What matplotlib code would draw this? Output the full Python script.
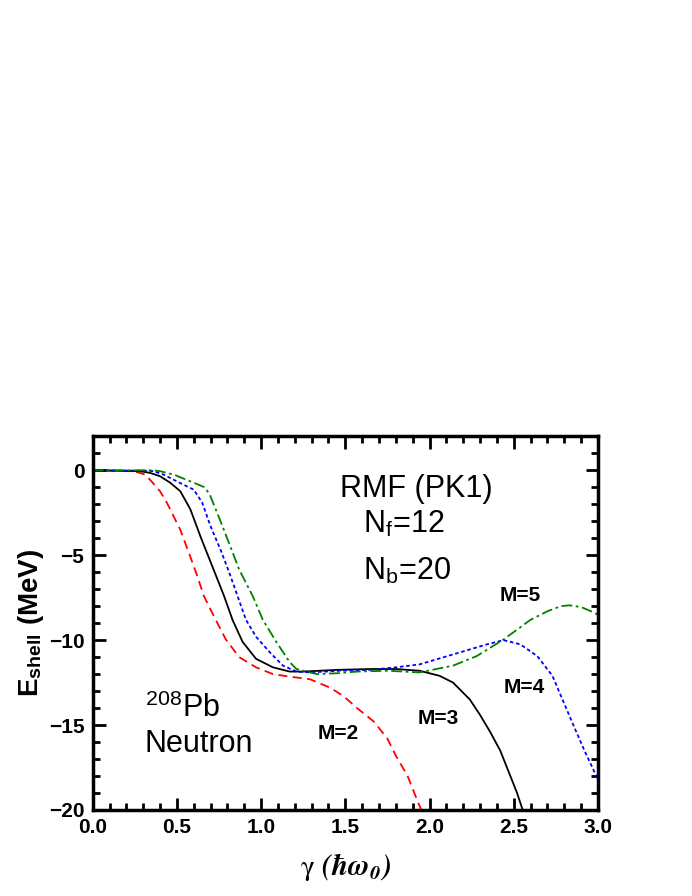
import matplotlib
matplotlib.use('Agg')
import matplotlib.pyplot as plt
from matplotlib.ticker import MultipleLocator

plt.rcParams['font.family'] = ['Liberation Sans', 'DejaVu Sans']
plt.rcParams['mathtext.fontset'] = 'stix'

# M=2 (red dashed)
g_m2 = [0, 0.20, 0.27, 0.31, 0.34, 0.40, 0.44, 0.48, 0.52, 0.58, 0.62, 0.66,
        0.72, 0.79, 0.87, 0.97, 1.07, 1.17, 1.29, 1.41, 1.49, 1.57, 1.67,
        1.75, 1.80, 1.87, 1.93, 1.96]
e_m2 = [0, -0.03, -0.12, -0.25, -0.55, -1.24, -1.9, -2.7, -3.5, -5.1, -6.2,
        -7.4, -8.6, -9.95, -11.0, -11.6, -12.0, -12.15, -12.3, -12.8, -13.3,
        -14.0, -14.8, -15.8, -16.8, -18.0, -19.5, -20.2]

# M=3 (black solid)
g_m3 = [0, 0.28, 0.34, 0.40, 0.46, 0.52, 0.58, 0.64, 0.70, 0.74, 0.78, 0.83,
        0.89, 0.97, 1.07, 1.17, 1.25, 1.45, 1.65, 1.80, 1.94, 2.06, 2.14,
        2.24, 2.30, 2.36, 2.42, 2.48, 2.52, 2.56]
e_m3 = [0, -0.05, -0.15, -0.35, -0.73, -1.23, -2.3, -3.9, -5.4, -6.4, -7.4,
        -8.8, -10.1, -11.1, -11.6, -11.85, -11.85, -11.75, -11.7, -11.7,
        -11.8, -12.1, -12.5, -13.5, -14.4, -15.4, -16.5, -18.0, -19.0, -20.2]

# M=4 (blue dotted)
g_m4 = [0, 0.30, 0.36, 0.42, 0.48, 0.54, 0.60, 0.65, 0.70, 0.76, 0.81, 0.86,
        0.91, 0.97, 1.05, 1.13, 1.21, 1.29, 1.47, 1.65, 1.80, 1.94, 2.14,
        2.34, 2.44, 2.54, 2.64, 2.73, 2.79, 2.85, 2.92, 3.0]
e_m4 = [0, -0.02, -0.05, -0.25, -0.55, -0.85, -1.14, -1.9, -3.3, -4.7, -6.0,
        -7.4, -8.8, -9.8, -10.7, -11.5, -11.85, -11.9, -11.8, -11.75, -11.6,
        -11.43, -10.84, -10.25, -10.0, -10.25, -10.94, -12.1, -13.5, -14.9,
        -16.5, -18.2]

# M=5 (green dash-dot)
g_m5 = [0, 0.36, 0.40, 0.48, 0.60, 0.665, 0.695, 0.755, 0.81, 0.87, 0.95,
        1.01, 1.09, 1.17, 1.21, 1.33, 1.45, 1.57, 1.75, 1.94, 2.14, 2.28,
        2.44, 2.60, 2.70, 2.78, 2.83, 2.90, 2.96, 3.0]
e_m5 = [0, 0.0, -0.05, -0.25, -0.73, -1.0, -1.43, -2.9, -4.3, -5.85, -7.4,
        -8.8, -10.1, -11.3, -11.7, -12.0, -11.95, -11.85, -11.8, -11.9,
        -11.5, -10.94, -9.96, -8.8, -8.3, -8.0, -7.95, -8.05, -8.3, -8.5]

fig = plt.figure(figsize=(6.92, 8.96), dpi=100)
ax = fig.add_axes([0.134, 0.096, 0.730, 0.417])

lw = 1.3
ax.plot(g_m2, e_m2, color='#ff0000', lw=lw, dashes=(5, 3))
ax.plot(g_m3, e_m3, color='black', lw=lw)
ax.plot(g_m4, e_m4, color='#0000ff', lw=lw, dashes=(2, 1.5))
ax.plot(g_m5, e_m5, color='#008000', lw=lw, dashes=(6, 2, 1.5, 2))

ax.set_xlim(0, 3.0)
ax.set_ylim(-20, 2)
ax.xaxis.set_major_locator(MultipleLocator(0.5))
ax.xaxis.set_minor_locator(MultipleLocator(0.1))
ax.yaxis.set_major_locator(MultipleLocator(5))
ax.yaxis.set_minor_locator(MultipleLocator(1))
ax.tick_params(which='both', direction='in', top=True, right=True,
               width=2)
ax.tick_params(which='major', length=9, labelsize=15, pad=6)
ax.tick_params(which='minor', length=5)
for lab in ax.get_xticklabels() + ax.get_yticklabels():
    lab.set_fontweight('bold')
for sp in ax.spines.values():
    sp.set_linewidth(2.5)

ax.set_ylabel(r'E$_{\mathregular{shell}}$ (MeV)', fontsize=20,
              fontweight='bold', labelpad=2)
ax.set_xlabel(r'$\mathrm{\gamma}$ $\mathbfit{(\hbar\omega_0)}$',
              fontsize=21, labelpad=10)

ax.text(1.922, -1.6, 'RMF (PK1)', fontsize=22, ha='center', va='baseline')
ax.text(1.604, -3.66, r'N$_\mathregular{f}$=12', fontsize=22,
        va='baseline')
ax.text(1.604, -6.43, r'N$_\mathregular{b}$=20', fontsize=22,
        va='baseline')
ax.text(0.309, -14.5, r'$^{\mathregular{208}}$Pb', fontsize=22,
        va='baseline')
ax.text(0.309, -16.6, 'Neutron', fontsize=22, va='baseline')

ax.text(2.54, -7.4, 'M=5', fontsize=15, fontweight='bold', ha='center',
        va='center')
ax.text(2.56, -12.8, 'M=4', fontsize=15, fontweight='bold', ha='center',
        va='center')
ax.text(2.05, -14.6, 'M=3', fontsize=15, fontweight='bold', ha='center',
        va='center')
ax.text(1.46, -15.5, 'M=2', fontsize=15, fontweight='bold', ha='center',
        va='center')

fig.savefig('out.png', dpi=100)
